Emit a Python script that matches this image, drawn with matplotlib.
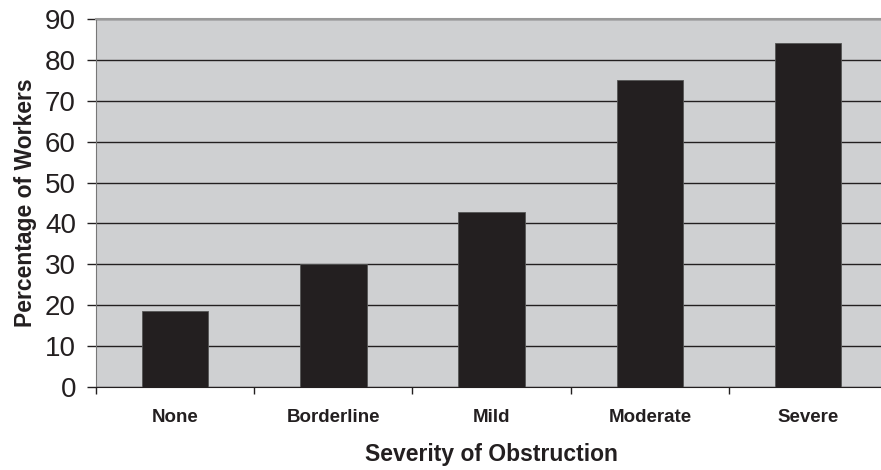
import matplotlib.pyplot as plt
import numpy as np

plt.rcParams['font.family'] = ['Liberation Sans', 'DejaVu Sans']

categories = ['None', 'Borderline', 'Mild', 'Moderate', 'Severe']
percent = [18.5, 30.2, 42.8, 75.2, 84.2]
y_ticks = [0, 10, 20, 30, 40, 50, 60, 70, 80, 90]

dark = '#231f20'

fig = plt.figure(figsize=(8.81, 4.7), dpi=100)
# plot area runs a little past the right edge of the picture, as in the original
ax = fig.add_axes([0.109, 0.1766, 0.898, 0.783])
ax.set_facecolor('#cfd0d2')

x = np.arange(len(categories))
ax.bar(x, percent, width=0.42, color=dark, edgecolor='#555555', linewidth=0.6, zorder=3)

ax.set_xlim(-0.5, len(categories) - 0.5)
ax.set_ylim(0, 90)
ax.set_yticks(y_ticks)
ax.set_yticklabels([str(v) for v in y_ticks], fontsize=20, color=dark)
ax.yaxis.grid(True, color=dark, linewidth=1.0, zorder=1)
ax.set_axisbelow(True)

# category labels between boundary ticks
ax.set_xticks(np.arange(len(categories) + 1) - 0.5)
ax.set_xticklabels([])
ax.set_xticks(x, minor=True)
ax.set_xticklabels(categories, minor=True, fontsize=13.5, fontweight='bold', color=dark)
ax.tick_params(axis='x', which='minor', length=0, pad=16)
ax.tick_params(axis='x', which='major', length=5, width=1, color=dark, direction='out')
ax.tick_params(axis='y', length=6.5, width=1, color=dark, direction='out', pad=8)

ax.spines['top'].set_color('#999999')
ax.spines['top'].set_linewidth(1.5)
ax.spines['right'].set_visible(False)
ax.spines['left'].set_color('#777777')
ax.spines['bottom'].set_color(dark)

ax.set_ylabel('Percentage of Workers', fontsize=16.5, fontweight='bold', color=dark, labelpad=6)
ax.set_xlabel('Severity of Obstruction', fontsize=16.5, fontweight='bold', color=dark, labelpad=12)

fig.savefig('out.png', dpi=100)
